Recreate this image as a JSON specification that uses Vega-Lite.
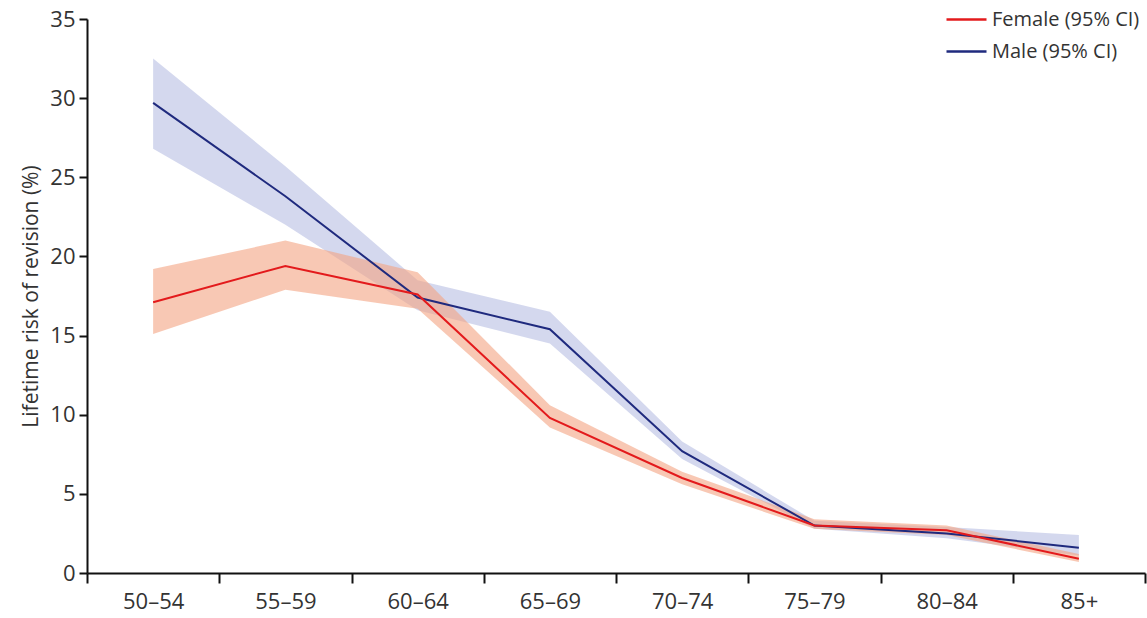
{
  "$schema": "https://vega.github.io/schema/vega-lite/v6.json",
  "autosize": "none",
  "width": 1058,
  "height": 554,
  "padding": {"left": 87, "top": 19, "right": 2, "bottom": 45},
  "background": "white",
  "config": {
    "font": "Open Sans",
    "view": {"stroke": null},
    "axis": {"grid": false, "domainColor": "#111", "tickColor": "#111", "domainWidth": 2, "tickWidth": 2, "labelColor": "#333", "titleColor": "#333"}
  },
  "data": {
    "values": [
      {"age": "50–54", "sex": "Male", "risk": 29.7, "lo": 26.8, "hi": 32.5},
      {"age": "55–59", "sex": "Male", "risk": 23.8, "lo": 22.0, "hi": 25.7},
      {"age": "60–64", "sex": "Male", "risk": 17.4, "lo": 16.6, "hi": 18.5},
      {"age": "65–69", "sex": "Male", "risk": 15.4, "lo": 14.5, "hi": 16.5},
      {"age": "70–74", "sex": "Male", "risk": 7.7, "lo": 7.2, "hi": 8.3},
      {"age": "75–79", "sex": "Male", "risk": 3.0, "lo": 2.8, "hi": 3.3},
      {"age": "80–84", "sex": "Male", "risk": 2.5, "lo": 2.2, "hi": 2.9},
      {"age": "85+", "sex": "Male", "risk": 1.6, "lo": 1.1, "hi": 2.4},
      {"age": "50–54", "sex": "Female", "risk": 17.1, "lo": 15.1, "hi": 19.2},
      {"age": "55–59", "sex": "Female", "risk": 19.4, "lo": 17.9, "hi": 21.0},
      {"age": "60–64", "sex": "Female", "risk": 17.6, "lo": 16.7, "hi": 19.0},
      {"age": "65–69", "sex": "Female", "risk": 9.8, "lo": 9.2, "hi": 10.6},
      {"age": "70–74", "sex": "Female", "risk": 6.0, "lo": 5.6, "hi": 6.4},
      {"age": "75–79", "sex": "Female", "risk": 3.0, "lo": 2.8, "hi": 3.4},
      {"age": "80–84", "sex": "Female", "risk": 2.7, "lo": 2.4, "hi": 3.0},
      {"age": "85+", "sex": "Female", "risk": 0.9, "lo": 0.7, "hi": 1.2}
    ]
  },
  "encoding": {
    "x": {
      "field": "age", "type": "ordinal", "bandPosition": 0.5,
      "sort": ["50–54", "55–59", "60–64", "65–69", "70–74", "75–79", "80–84", "85+"],
      "scale": {"type": "band", "paddingInner": 0, "paddingOuter": 0},
      "axis": {"title": null, "labelAngle": 0, "tickBand": "extent", "tickSize": 10, "labelFontSize": 22, "labelPadding": 8}
    }
  },
  "layer": [
    {
      "mark": {"type": "area", "opacity": 0.6},
      "encoding": {
        "y": {"field": "lo", "type": "quantitative", "scale": {"domain": [0, 35]},
          "axis": {"title": "Lifetime risk of revision (%)", "values": [0, 5, 10, 15, 20, 25, 30, 35], "tickSize": 8, "labelFontSize": 22, "labelPadding": 4, "titleFontSize": 21, "titleFontWeight": "normal", "titlePadding": 8}},
        "y2": {"field": "hi"},
        "fill": {"field": "sex", "type": "nominal", "scale": {"domain": ["Female", "Male"], "range": ["#f3a382", "#b7bee3"]}, "legend": null},
        "order": {"field": "sex", "sort": "descending"}
      }
    },
    {
      "mark": {"type": "line", "strokeWidth": 2},
      "encoding": {
        "y": {"field": "risk", "type": "quantitative"},
        "stroke": {"field": "sex", "type": "nominal", "scale": {"domain": ["Female", "Male"], "range": ["#e31a1c", "#1f2a7e"]},
          "legend": {"title": null, "orient": "none", "legendX": 858, "legendY": -21, "symbolType": "stroke", "symbolSize": 1600, "symbolStrokeWidth": 2.5, "labelFontSize": 20, "labelColor": "#333", "labelExpr": "datum.label + ' (95% CI)'", "labelLimit": 300, "rowPadding": -11, "labelOffset": 4}}
      }
    }
  ],
  "resolve": {"legend": {"fill": "independent", "stroke": "independent"}, "scale": {"fill": "independent", "stroke": "independent"}}
}
